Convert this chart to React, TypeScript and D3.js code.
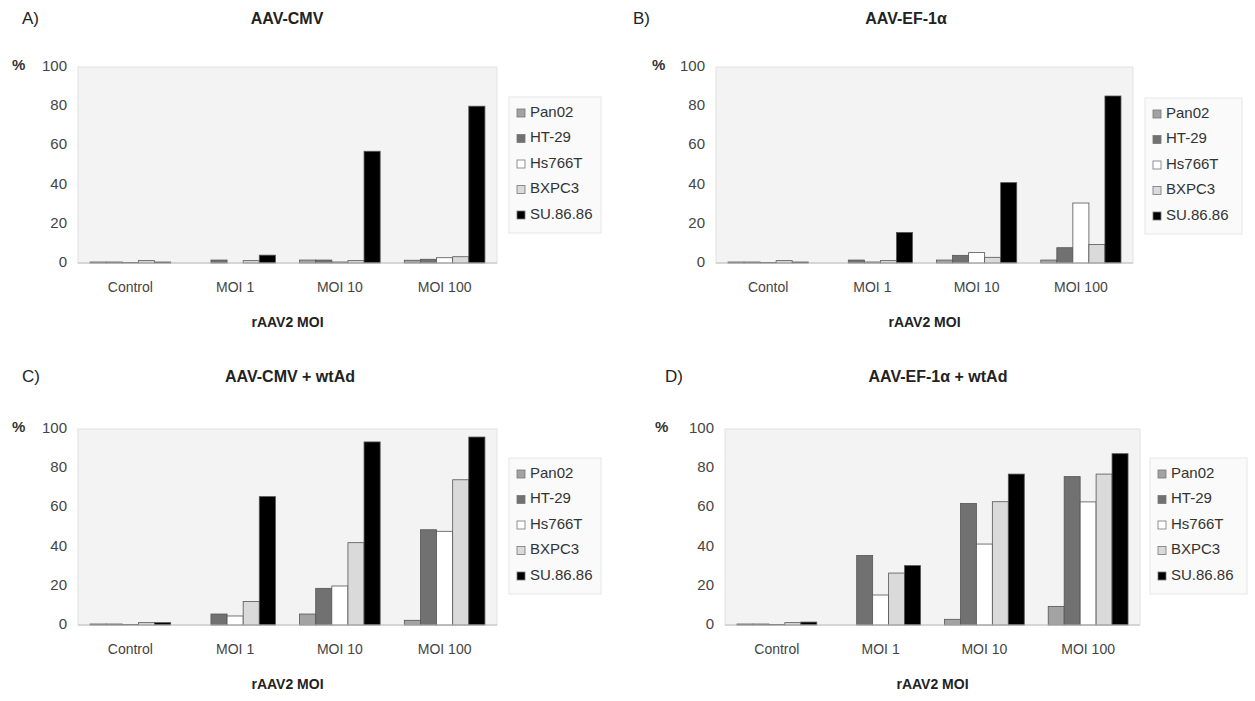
import React from 'react';
import * as d3 from 'd3';

const seriesNames = ['Pan02', 'HT-29', 'Hs766T', 'BXPC3', 'SU.86.86'];
const seriesColors = ['#a3a3a3', '#717171', '#ffffff', '#dadada', '#000000'];
const yTicks = [0, 20, 40, 60, 80, 100];

const catsA = ['Control', 'MOI 1', 'MOI 10', 'MOI 100'];
const catsB = ['Contol', 'MOI 1', 'MOI 10', 'MOI 100'];

// values per series (Pan02, HT-29, Hs766T, BXPC3, SU.86.86), one entry per category
const valuesA = [
  [0.5, 0, 1.5, 1.4],
  [0.5, 1.5, 1.5, 1.9],
  [0.3, 0, 0.5, 2.7],
  [1.2, 1.2, 1.2, 3.2],
  [0.5, 4, 57, 80],
];
const valuesB = [
  [0.5, 0, 1.5, 1.5],
  [0.5, 1.5, 3.9, 7.8],
  [0.3, 0.5, 5.3, 30.6],
  [1.2, 1.2, 2.9, 9.4],
  [0.5, 15.6, 41, 85.2],
];
const valuesC = [
  [0.5, 0, 5.6, 2.4],
  [0.5, 5.6, 18.7, 48.6],
  [0.3, 4.6, 19.9, 47.8],
  [1.2, 12, 42, 74.1],
  [1.2, 65.5, 93.4, 95.9],
];
const valuesD = [
  [0.5, 0, 2.9, 9.5],
  [0.5, 35.5, 62, 75.7],
  [0.3, 15.3, 41.3, 62.8],
  [1.2, 26.5, 62.9, 77],
  [1.5, 30.3, 77, 87.4],
];

const font = '"Liberation Sans", Arial, sans-serif';

type PanelProps = {
  letter: string;
  letterX: number;
  title: string;
  titleX: number;
  titleY: number;
  cats: string[];
  values: number[][];
  x0: number;
  x1: number;
  top: number;
  bottom: number;
  pctX: number;
  legendX: number;
  legendY: number;
  legendW: number;
};

const Panel = (p: PanelProps) => {
  const x = d3.scaleBand<string>().domain(p.cats).range([p.x0, p.x1]);
  const y = d3.scaleLinear().domain([0, 100]).range([p.bottom, p.top]);
  const barW = x.bandwidth() / 6.5;
  const inner = d3
    .scaleBand<string>()
    .domain(seriesNames)
    .range([0.75 * barW, 0.75 * barW + 5 * barW]);

  return (
    <g fontFamily={font}>
      <text x={p.letterX} y={p.titleY} fontSize={17} fill="#222" dominantBaseline="middle">
        {p.letter}
      </text>
      <text x={p.titleX} y={p.titleY} fontSize={16} fontWeight="bold" fill="#222" textAnchor="middle" dominantBaseline="middle">
        {p.title}
      </text>
      <rect x={p.x0} y={p.top} width={p.x1 - p.x0} height={p.bottom - p.top} fill="#f3f3f3" stroke="#e2e2e2" />
      <text x={p.pctX} y={p.top - 1} fontSize={15} fontWeight="bold" fill="#333" dominantBaseline="middle">
        %
      </text>
      {yTicks.map((t) => (
        <text key={t} x={p.x0 - 11} y={y(t)} fontSize={15} fill="#444" textAnchor="end" dominantBaseline="middle">
          {t}
        </text>
      ))}
      {p.values.map((vals, si) =>
        vals.map((v, ci) =>
          v > 0 ? (
            <rect
              key={`${si}-${ci}`}
              x={(x(p.cats[ci]) ?? 0) + (inner(seriesNames[si]) ?? 0)}
              y={y(v)}
              width={inner.bandwidth()}
              height={y(0) - y(v)}
              fill={seriesColors[si]}
              stroke="#555"
              strokeWidth={0.8}
            />
          ) : null
        )
      )}
      <line x1={p.x0} x2={p.x1} y1={p.bottom} y2={p.bottom} stroke="#bdbdbd" />
      {p.cats.map((c) => (
        <text key={c} x={(x(c) ?? 0) + x.bandwidth() / 2} y={p.bottom + 25} fontSize={14} fill="#444" textAnchor="middle" dominantBaseline="middle">
          {c}
        </text>
      ))}
      <text x={(p.x0 + p.x1) / 2} y={p.bottom + 60} fontSize={14} fontWeight="bold" fill="#222" textAnchor="middle" dominantBaseline="middle">
        rAAV2 MOI
      </text>
      <rect x={p.legendX} y={p.legendY} width={p.legendW} height={136} fill="#fafafa" stroke="#e6e6e6" />
      {seriesNames.map((s, i) => (
        <g key={s} transform={`translate(${p.legendX + 8},${p.legendY + 16 + i * 25.5})`}>
          <rect x={0} y={-4} width={8} height={8} fill={seriesColors[i]} stroke="#777" strokeWidth={0.8} />
          <text x={13} y={0} fontSize={15} fill="#333" dominantBaseline="middle">
            {s}
          </text>
        </g>
      ))}
    </g>
  );
};

export default function App() {
  return (
    <svg width={1255} height={701} style={{ position: 'absolute', left: 0, top: 0, background: '#fff' }}>
      <rect width={1255} height={701} fill="#fff" />
      <Panel letter="A)" letterX={22} title="AAV-CMV" titleX={287} titleY={20} cats={catsA} values={valuesA}
        x0={78} x1={497} top={67} bottom={263} pctX={12} legendX={509} legendY={97} legendW={92} />
      <Panel letter="B)" letterX={633} title="AAV-EF-1α" titleX={906} titleY={20} cats={catsB} values={valuesB}
        x0={716} x1={1133} top={67} bottom={263} pctX={652} legendX={1145} legendY={98} legendW={97} />
      <Panel letter="C)" letterX={22} title="AAV-CMV + wtAd" titleX={290} titleY={378} cats={catsA} values={valuesC}
        x0={78} x1={497} top={429} bottom={625} pctX={12} legendX={509} legendY={458} legendW={92} />
      <Panel letter="D)" letterX={665} title="AAV-EF-1α + wtAd" titleX={938} titleY={378} cats={catsA} values={valuesD}
        x0={725} x1={1140} top={429} bottom={625} pctX={655} legendX={1150} legendY={458} legendW={97} />
    </svg>
  );
}
